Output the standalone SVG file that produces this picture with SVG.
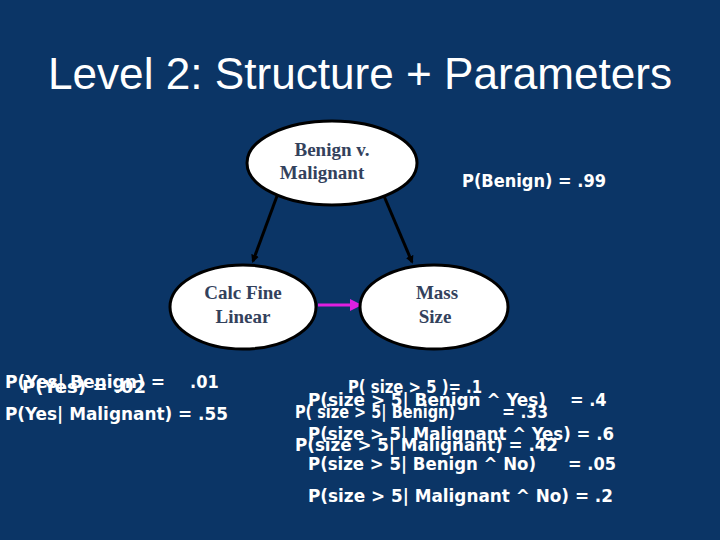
<svg xmlns="http://www.w3.org/2000/svg" width="720" height="540" viewBox="0 0 720 540">
<style>
.n{fill:#fff;stroke:#000;stroke-width:3}
.l{font-family:"Liberation Serif",serif;font-weight:bold;font-size:19px;fill:#33415c;text-anchor:middle}
.t{font-family:"DejaVu Sans Condensed","DejaVu Sans",sans-serif;font-weight:bold;font-size:18px;fill:#fff}
</style>
<defs>
<marker id="a" markerWidth="8" markerHeight="8" refX="6" refY="4" orient="auto" markerUnits="userSpaceOnUse"><path d="M0,0L8,4L0,8z" fill="#000"/></marker>
<marker id="m" markerWidth="12" markerHeight="12" refX="10" refY="6" orient="auto" markerUnits="userSpaceOnUse"><path d="M0,0L12,6L0,12z" fill="#e020e0"/></marker>
</defs>
<rect width="720" height="540" fill="#0b3566"/>
<text x="48" y="89" font-family="Liberation Sans,sans-serif" font-size="44" fill="#fff" textLength="624" lengthAdjust="spacingAndGlyphs">Level 2: Structure + Parameters</text>
<g id="connectors">
<line x1="277" y1="196" x2="253" y2="261" stroke="#000" stroke-width="3" marker-end="url(#a)"/>
<line x1="384" y1="196" x2="412" y2="262" stroke="#000" stroke-width="3" marker-end="url(#a)"/>
<line x1="318" y1="305" x2="360" y2="305" stroke="#e020e0" stroke-width="3" marker-end="url(#m)"/>
</g>
<g id="bm"><ellipse class="n" cx="332" cy="163" rx="85" ry="42"/><text class="l" x="332" y="156">Benign v.</text><text class="l" x="322" y="179">Malignant</text></g>
<g id="cfl"><ellipse class="n" cx="243" cy="307" rx="73" ry="42"/><text class="l" x="243" y="299">Calc Fine</text><text class="l" x="243" y="323">Linear</text></g>
<g id="ms"><ellipse class="n" cx="434" cy="307" rx="74" ry="42"/><text class="l" x="437" y="299">Mass</text><text class="l" x="435" y="323">Size</text></g>
<g id="params" lengthAdjust="spacingAndGlyphs">
<text class="t" x="462" y="187" textLength="144" lengthAdjust="spacingAndGlyphs">P(Benign) = .99</text>
<text class="t" x="5" y="388" textLength="160" lengthAdjust="spacingAndGlyphs">P(Yes| Benign) =</text>
<text class="t" x="190" y="388">.01</text>
<text class="t" x="22" y="393" textLength="124" lengthAdjust="spacingAndGlyphs">P(Yes) = .02</text>
<text class="t" x="5" y="420" textLength="223" lengthAdjust="spacingAndGlyphs">P(Yes| Malignant) = .55</text>
<text class="t" x="348" y="393" textLength="134" lengthAdjust="spacingAndGlyphs">P( size &gt; 5 )= .1</text>
<text class="t" x="308" y="406" textLength="238" lengthAdjust="spacingAndGlyphs">P(size &gt; 5| Benign ^ Yes)</text>
<text class="t" x="570" y="406">= .4</text>
<text class="t" x="295" y="418" textLength="160" lengthAdjust="spacingAndGlyphs">P( size &gt; 5| Benign)</text>
<text class="t" x="502" y="418" textLength="46" lengthAdjust="spacingAndGlyphs">= .33</text>
<text class="t" x="308" y="440" textLength="306" lengthAdjust="spacingAndGlyphs">P(size &gt; 5| Malignant ^ Yes) = .6</text>
<text class="t" x="295" y="451" textLength="263" lengthAdjust="spacingAndGlyphs">P(size &gt; 5| Malignant) = .42</text>
<text class="t" x="308" y="470" textLength="228" lengthAdjust="spacingAndGlyphs">P(size &gt; 5| Benign ^ No)</text>
<text class="t" x="568" y="470" textLength="48" lengthAdjust="spacingAndGlyphs">= .05</text>
<text class="t" x="308" y="502" textLength="305" lengthAdjust="spacingAndGlyphs">P(size &gt; 5| Malignant ^ No)  = .2</text>
</g>
</svg>
